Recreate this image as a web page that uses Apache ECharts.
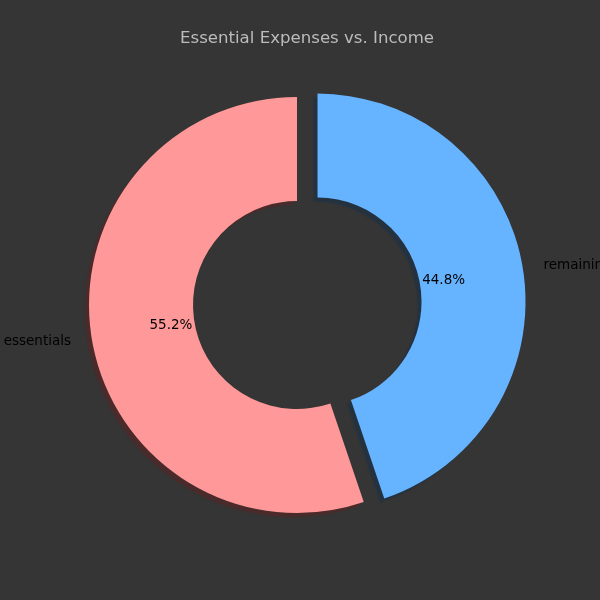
<!DOCTYPE html>
<html>
<head>
<meta charset="utf-8">
<script src="https://cdn.jsdelivr.net/npm/echarts@6/dist/echarts.min.js"></script>
<style>
html,body{margin:0;padding:0;background:#353535;}
#chart{width:600px;height:600px;}
</style>
</head>
<body>
<div id="chart"></div>
<script>
var categories = ['essentials', 'remaining'];
var values = [55.2, 44.8];
var colors = ['#ff9999', '#66b3ff'];
var shadows = ['rgba(80,40,40,0.8)', 'rgba(30,50,70,0.7)'];
var exploded = [false, true];

var myChart = echarts.init(document.getElementById('chart'));
var center = [297, 305];
var R = 208;

function items(withStyle){
	return categories.map(function (name, idx) {
		var d = { name: name, value: values[idx], selected: exploded[idx] };
		if (withStyle) {
			d.itemStyle = { color: colors[idx], shadowColor: shadows[idx] };
		}
		return d;
	});
}

var option = {
	backgroundColor: '#353535',
	animation: false,
	title: {
		text: 'Essential Expenses vs. Income',
		left: 175,
		top: 25,
		textStyle: { color: '#bbbbbb', fontSize: 16.6, fontWeight: 'normal', fontFamily: 'DejaVu Sans' }
	},
	series: [
		{
			// slices with the outer name labels
			type: 'pie',
			center: center,
			radius: [R * 0.5, R],
			startAngle: 90,
			clockwise: false,
			selectedMode: 'single',
			selectedOffset: R * 0.1,
			avoidLabelOverlap: false,
			silent: true,
			itemStyle: { shadowBlur: 1, shadowOffsetX: -4, shadowOffsetY: 4 },
			label: {
				show: true,
				position: 'outside',
				color: '#000000',
				fontSize: 13.5,
				fontFamily: 'DejaVu Sans',
				width: 120,
				overflow: 'none',
				formatter: '{b}'
			},
			labelLine: { show: false, length: 16, length2: 0 },
			data: items(true)
		},
		{
			// invisible copy carrying the percent labels at 0.6 R
			type: 'pie',
			center: center,
			radius: [0, R * 1.2],
			startAngle: 90,
			clockwise: false,
			selectedMode: 'single',
			selectedOffset: R * 0.1,
			silent: true,
			z: 3,
			itemStyle: { color: 'rgba(0,0,0,0)' },
			label: {
				show: true,
				position: 'inside',
				color: '#000000',
				fontSize: 13.5,
				fontFamily: 'DejaVu Sans',
				formatter: function (p) { return p.value.toFixed(1) + '%'; }
			},
			labelLine: { show: false },
			data: items(false)
		}
	]
};
myChart.setOption(option, true);
</script>
</body>
</html>
